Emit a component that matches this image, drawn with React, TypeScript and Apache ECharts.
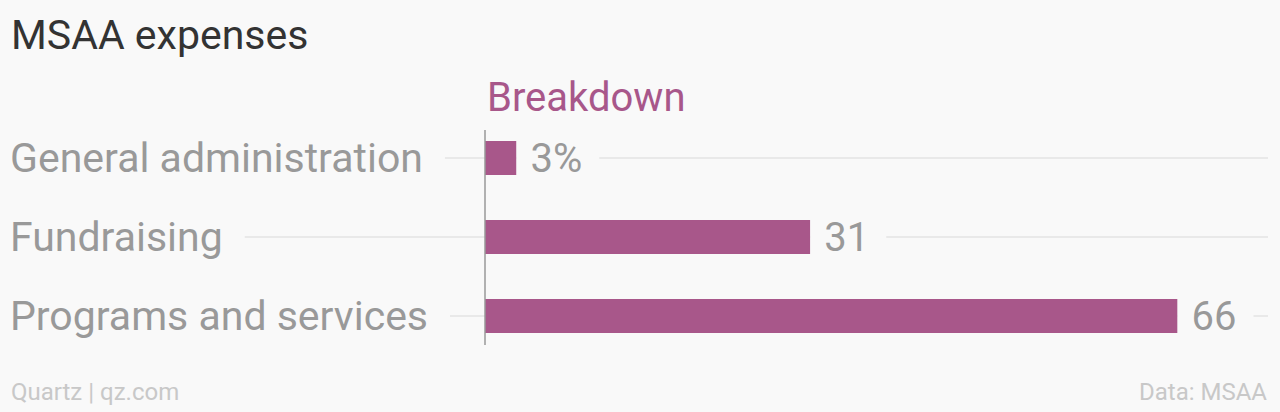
import React, { useEffect, useRef } from "react";
import * as echarts from "echarts";

const categories = ["General administration", "Fundraising", "Programs and services"];
const values = [3, 31, 66];
const titleText = "MSAA expenses";
const seriesName = "Breakdown";
const sourceLeft = "Quartz | qz.com";
const sourceRight = "Data: MSAA";

const BG = "#f9f9f9";
const PURPLE = "#a8578a";
const FONT = "Roboto, 'Helvetica Neue', Arial, sans-serif";

export default function App() {
  const ref = useRef<HTMLDivElement>(null);
  useEffect(() => {
    document.body.style.margin = "0";
    const chart = echarts.init(ref.current!, null, { renderer: "svg" });
    const option: any = {
      animation: false,
      backgroundColor: BG,
      textStyle: { fontFamily: FONT },
      title: [
        {
          text: titleText,
          left: 6,
          top: 9,
          textStyle: { fontFamily: FONT, fontSize: 41, fontWeight: "normal", color: "#333333" },
        },
        {
          text: seriesName,
          left: 482,
          top: 72,
          textStyle: { fontFamily: FONT, fontSize: 40, fontWeight: "normal", color: PURPLE },
        },
        {
          text: sourceLeft,
          left: 6,
          top: 375,
          textStyle: { fontFamily: FONT, fontSize: 24, fontWeight: "normal", color: "#c8c8c8" },
        },
        {
          text: sourceRight,
          right: 8,
          top: 375,
          textStyle: { fontFamily: FONT, fontSize: 24, fontWeight: "normal", color: "#c8c8c8" },
        },
      ],
      grid: { left: 485, right: 8, top: 118.5, height: 237, containLabel: false },
      xAxis: { type: "value", min: 0, max: 75, show: false },
      yAxis: {
        type: "category",
        data: categories,
        inverse: true,
        z: 5,
        axisLine: { show: false },
        axisTick: { show: false },
        splitLine: { show: false },
        axisLabel: {
          align: "left",
          margin: 475,
          fontFamily: FONT,
          fontSize: 41,
          color: "#999999",
          backgroundColor: BG,
          padding: [4, 22, 4, 0],
        },
      },
      series: [
        {
          type: "custom",
          z: 1,
          silent: true,
          data: categories.map((_, i) => [0, i]),
          encode: { x: 0, y: 1 },
          renderItem: (params: any, api: any) => {
            const p = api.coord([0, api.value(1)]);
            return {
              type: "line",
              shape: { x1: 10, y1: p[1], x2: api.getWidth() - 12, y2: p[1] },
              style: { stroke: "#e9e9e9", lineWidth: 2 },
            };
          },
        },
        {
          type: "bar",
          z: 3,
          data: values,
          barWidth: 34,
          itemStyle: { color: PURPLE },
          label: {
            show: true,
            position: "right",
            distance: 0,
            fontFamily: FONT,
            fontSize: 40,
            color: "#999999",
            backgroundColor: BG,
            padding: [4, 17, 4, 14],
            formatter: (p: any) => (p.dataIndex === 0 ? p.value + "%" : String(p.value)),
          },
        },
        {
          type: "custom",
          z: 6,
          silent: true,
          data: [[0, 0]],
          encode: { x: 0, y: 1 },
          renderItem: (params: any, api: any) => {
            const a = api.coord([0, 0]);
            const b = api.coord([0, categories.length - 1]);
            return {
              type: "line",
              shape: { x1: a[0], y1: a[1] - 28, x2: a[0], y2: b[1] + 29 },
              style: { stroke: "#999999", lineWidth: 1.5 },
            };
          },
        },
      ],
    };
    chart.setOption(option);
    return () => chart.dispose();
  }, []);
  return <div ref={ref} style={{ width: 1280, height: 412 }} />;
}
